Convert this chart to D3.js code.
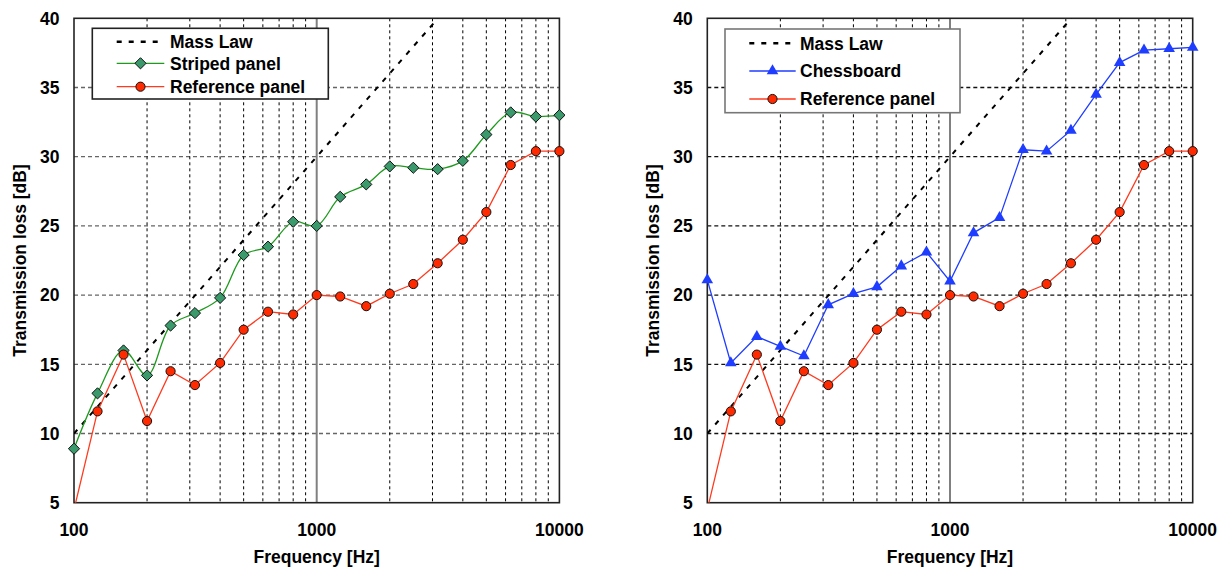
<!DOCTYPE html>
<html>
<head>
<meta charset="utf-8">
<script src="https://cdn.jsdelivr.net/npm/d3@7"></script>
<style>
  body { margin: 0; background: #fff; }
  svg { display: block; font-family: "Liberation Sans", Arial, sans-serif; font-weight: bold; }
</style>
</head>
<body>
<div id="chart"></div>
<script>
// third-octave band centre frequencies [Hz]
const freqs = [100, 125, 160, 200, 250, 315, 400, 500, 630, 800, 1000, 1250, 1600, 2000, 2500, 3150, 4000, 5000, 6300, 8000, 10000];

// transmission loss [dB]
const referenceTL = [4.5, 11.6, 15.7, 10.9, 14.5, 13.5, 15.1, 17.5, 18.8, 18.6, 20.0, 19.9, 19.2, 20.1, 20.8, 22.3, 24.0, 26.0, 29.4, 30.4, 30.4];
const stripedTL = [8.9, 12.9, 16.0, 14.2, 17.8, 18.7, 19.8, 22.9, 23.5, 25.3, 25.0, 27.1, 28.0, 29.3, 29.2, 29.1, 29.7, 31.6, 33.2, 32.9, 33.0];
const chessTL = [21.1, 15.1, 17.0, 16.3, 15.6, 19.3, 20.1, 20.6, 22.1, 23.1, 21.0, 24.5, 25.6, 30.5, 30.4, 31.9, 34.5, 36.8, 37.7, 37.8, 37.9];

// mass law end points
const massLawFreq = [100, 3162];
const massLawTL = [10, 40];

const yTicks = [5, 10, 15, 20, 25, 30, 35, 40];
const xLabelTicks = [100, 1000, 10000];
const minorFreqs = [200, 300, 400, 500, 600, 700, 800, 900, 2000, 3000, 4000, 5000, 6000, 7000, 8000, 9000];

const width = 1227, height = 567;
const plotTop = 18.3, plotBottom = 502.7;
const fontSize = "17.5px";

const svg = d3.select("#chart").append("svg")
  .attr("width", width)
  .attr("height", height);

const diamond = d3.symbol().type(d3.symbolDiamond2).size(80);
const triangle = d3.symbol().type(d3.symbolTriangle).size(58);
const circle = d3.symbol().type(d3.symbolCircle).size(66);

function drawPanel(cfg) {
  const x = d3.scaleLog().domain([100, 10000]).range([cfg.left, cfg.left + 485.4]);
  const y = d3.scaleLinear().domain([5, 40]).range([plotBottom, plotTop]);
  const g = svg.append("g");

  const clipId = "clip" + cfg.id;
  svg.append("clipPath").attr("id", clipId)
    .append("rect")
    .attr("x", x(100)).attr("y", plotTop)
    .attr("width", x(10000) - x(100)).attr("height", plotBottom - plotTop);

  // horizontal grid
  g.selectAll(".hgrid")
    .data(yTicks.filter(d => d > 5 && d < 40))
    .join("line")
    .attr("x1", x(100)).attr("x2", x(10000))
    .attr("y1", d => y(d)).attr("y2", d => y(d))
    .attr("stroke", cfg.hGridColor)
    .attr("stroke-width", 1.3)
    .attr("stroke-dasharray", "4,3");

  // vertical grid
  g.selectAll(".vgrid")
    .data(minorFreqs)
    .join("line")
    .attr("x1", d => x(d)).attr("x2", d => x(d))
    .attr("y1", plotTop).attr("y2", plotBottom)
    .attr("stroke", "#000")
    .attr("stroke-width", 1)
    .attr("stroke-dasharray", "3,3");

  g.append("line")
    .attr("x1", x(1000)).attr("x2", x(1000))
    .attr("y1", plotTop).attr("y2", plotBottom)
    .attr("stroke", "#808080")
    .attr("stroke-width", 2);

  // frame
  g.append("rect")
    .attr("x", x(100)).attr("y", plotTop)
    .attr("width", x(10000) - x(100)).attr("height", plotBottom - plotTop)
    .attr("fill", "none")
    .attr("stroke", "#222")
    .attr("stroke-width", 1.6);

  // tick labels
  g.selectAll(".ylab")
    .data(yTicks)
    .join("text")
    .attr("x", x(100) - 14.5)
    .attr("y", d => y(d) + 6.3)
    .attr("text-anchor", "end")
    .style("font-size", fontSize)
    .text(d => d);

  g.selectAll(".xlab")
    .data(xLabelTicks)
    .join("text")
    .attr("x", d => x(d))
    .attr("y", 536)
    .attr("text-anchor", "middle")
    .style("font-size", fontSize)
    .text(d => d);

  g.append("text")
    .attr("x", x(1000))
    .attr("y", 563)
    .attr("text-anchor", "middle")
    .style("font-size", fontSize)
    .text("Frequency [Hz]");

  g.append("text")
    .attr("transform", `translate(${cfg.left - 48.5},${(plotTop + plotBottom) / 2}) rotate(-90)`)
    .attr("text-anchor", "middle")
    .style("font-size", fontSize)
    .text("Transmission loss [dB]");

  // mass law
  g.append("path")
    .attr("clip-path", `url(#${clipId})`)
    .attr("d", d3.line().x(d => x(d[0])).y(d => y(d[1]))(d3.zip(massLawFreq, massLawTL)))
    .attr("fill", "none")
    .attr("stroke", "#000")
    .attr("stroke-width", 2)
    .attr("stroke-dasharray", "5,7");

  cfg.series.forEach(s => {
    const pts = d3.zip(freqs, s.values);
    g.append("path")
      .attr("clip-path", `url(#${clipId})`)
      .attr("d", d3.line().curve(s.curve).x(d => x(d[0])).y(d => y(d[1]))(pts))
      .attr("fill", "none")
      .attr("stroke", s.line)
      .attr("stroke-width", 1.3);

    g.selectAll(null)
      .data(pts.filter(d => d[1] >= 5))
      .join("path")
      .attr("transform", d => `translate(${x(d[0])},${y(d[1])})`)
      .attr("d", s.symbol)
      .attr("fill", s.fill)
      .attr("stroke", s.stroke)
      .attr("stroke-width", 1);
  });

  // legend
  const L = cfg.legend;
  g.append("rect")
    .attr("x", cfg.left + L.dx).attr("y", L.top)
    .attr("width", L.w).attr("height", L.h)
    .attr("fill", "#fff")
    .attr("stroke", L.border)
    .attr("stroke-width", 1.6);

  const entries = [{ name: "Mass Law", line: "#000", dash: "5,7", width: 2.4 }]
    .concat(cfg.series.map(s => ({ name: s.name, line: s.line, dash: null, width: 1.3, s })));

  entries.forEach((e, i) => {
    const cy = L.rows[i];
    g.append("line")
      .attr("x1", cfg.left + L.sx1).attr("x2", cfg.left + L.sx2)
      .attr("y1", cy).attr("y2", cy)
      .attr("stroke", e.line)
      .attr("stroke-width", e.width)
      .attr("stroke-dasharray", e.dash);
    if (e.s) {
      g.append("path")
        .attr("transform", `translate(${cfg.left + (L.sx1 + L.sx2) / 2},${cy})`)
        .attr("d", e.s.symbol)
        .attr("fill", e.s.fill)
        .attr("stroke", e.s.stroke)
        .attr("stroke-width", 1);
    }
    g.append("text")
      .attr("x", cfg.left + L.tx)
      .attr("y", cy + 6.3)
      .style("font-size", fontSize)
      .text(e.name);
  });
}

const refSeries = { name: "Reference panel", values: referenceTL, line: "#ff3b1f", fill: "#ff2a00", stroke: "#111", symbol: circle, curve: d3.curveLinear };

drawPanel({
  id: "L",
  left: 74,
  hGridColor: "#666",
  series: [
    { name: "Striped panel", values: stripedTL, line: "#1f9a1f", fill: "#3a9a6c", stroke: "#111", symbol: diamond, curve: d3.curveCatmullRom.alpha(0.5) },
    refSeries
  ],
  legend: { dx: 18.3, top: 28.3, w: 236, h: 70.7, border: "#222", rows: [41.7, 63.3, 86.7], sx1: 42.7, sx2: 90.3, tx: 96 }
});

drawPanel({
  id: "R",
  left: 707.3,
  hGridColor: "#111",
  series: [
    { name: "Chessboard", values: chessTL, line: "#1f3dff", fill: "#1f3dff", stroke: "none", symbol: triangle, curve: d3.curveLinear },
    refSeries
  ],
  legend: { dx: 17.7, top: 29, w: 235, h: 83.7, border: "#777", rows: [43.3, 71, 99], sx1: 42, sx2: 88.4, tx: 92.7 }
});
</script>
</body>
</html>
